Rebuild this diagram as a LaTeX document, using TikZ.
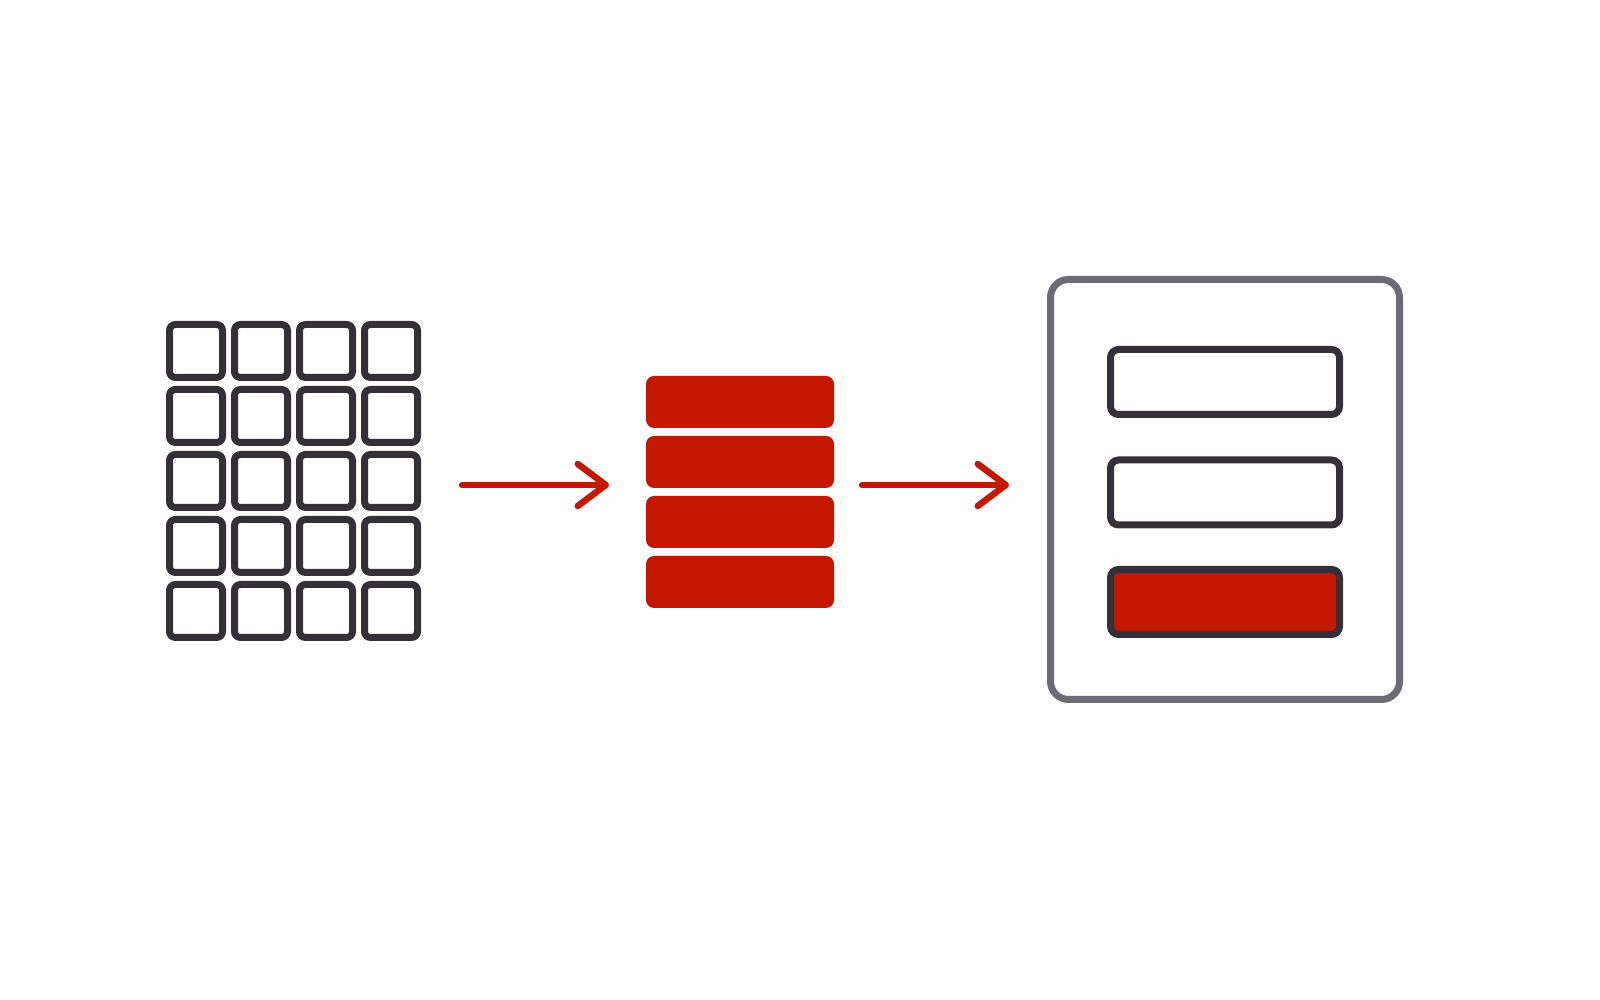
\documentclass[tikz,border=0pt]{standalone}
\usepackage{tikz}
\usetikzlibrary{arrows.meta}
\definecolor{inkdark}{HTML}{333036}
\definecolor{inkred}{HTML}{C41700}
\definecolor{inkgray}{HTML}{6B6C74}

\begin{document}
\begin{tikzpicture}
    \tikzset{cell/.style = {shape=rectangle,draw=inkdark,line width=0.07cm,rounded corners=0.06cm,minimum size=0.53cm,inner sep=0pt}}
    \tikzset{slab/.style = {shape=rectangle,fill=inkred,rounded corners=0.08cm,minimum width=1.88cm,minimum height=0.52cm,inner sep=0pt}}
    \tikzset{field/.style = {shape=rectangle,draw=inkdark,line width=0.07cm,rounded corners=0.08cm,minimum width=2.29cm,minimum height=0.65cm,inner sep=0pt}}
    \tikzset{panel/.style = {shape=rectangle,draw=inkgray,line width=0.07cm,rounded corners=0.18cm,minimum width=3.49cm,minimum height=4.20cm,inner sep=0pt}}
    \tikzset{flow/.style = {draw=inkred,line width=0.065cm,line cap=round,-{Straight Barb[length=0.28cm,width=0.42cm,round]}}}
    \useasboundingbox (0,0) rectangle (16,10);
    % grid of cells
    \foreach \col in {0,...,3}
    \foreach \row in {0,...,4}
    \node[cell] (c-\col-\row) at ({1.96+0.65*\col},{6.49-0.65*\row}) {};
    % stack
    \node[slab] (s1) at (7.40,5.98) {};
    \node[slab] (s2) at (7.40,5.38) {};
    \node[slab] (s3) at (7.40,4.78) {};
    \node[slab] (s4) at (7.40,4.18) {};
    % panel
    \node[panel] (p) at (12.25,5.105) {};
    \node[field] (f1) at (12.25,6.18) {};
    \node[field] (f2) at (12.25,5.075) {};
    \node[field,fill=inkred] (f3) at (12.25,3.98) {};
    %arrows
    \coordinate (a1s) at (4.62,5.15);
    \coordinate (a1e) at (6.09,5.15);
    \coordinate (a2s) at (8.62,5.15);
    \coordinate (a2e) at (10.09,5.15);
    \draw[flow] (a1s) -- (a1e);
    \draw[flow] (a2s) -- (a2e);
\end{tikzpicture}
\end{document}
